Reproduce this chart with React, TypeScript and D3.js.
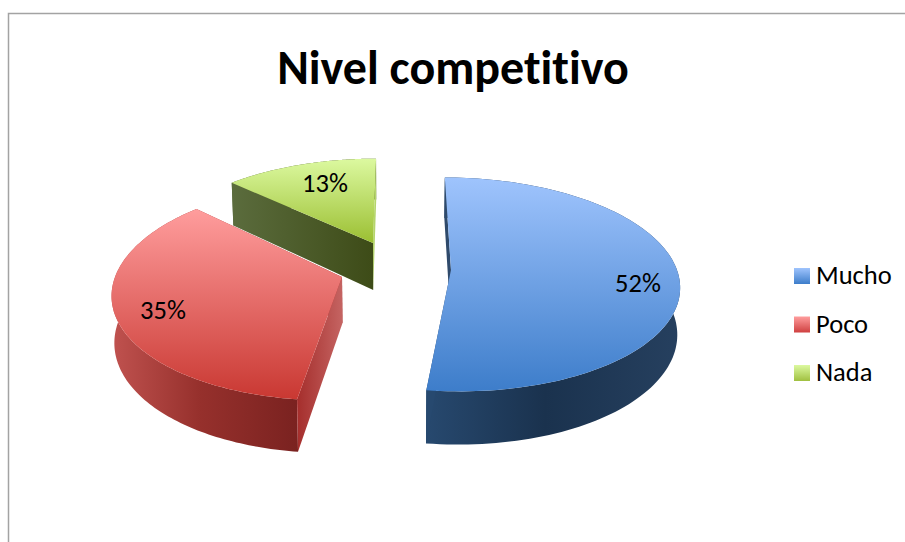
import React from "react";
import * as d3 from "d3";

const categories = ["Mucho", "Poco", "Nada"];
const shares = [52, 35, 13];
const chartTitle = "Nivel competitivo";

// Per-slice projection of the tilted, exploded pie.
const sliceViews = [
  { ax: 451, ay: 270, A: 226, B: 105, p: 0.135, s: -7, H: 46, lx: 638, ly: 292 },
  { ax: 342, ay: 277, A: 227, B: 108, p: 0.125, s: 11, H: 46, lx: 163, ly: 319 },
  { ax: 373, ay: 243, A: 217, B: 97, p: 0.15, s: 3.5, H: 47, lx: 325, ly: 192 },
];
const vanishX = 393;

const topStops = [
  ["#9fc4fd", "#3d7dca"],
  ["#ff9d9d", "#c93832"],
  ["#dcf9a0", "#9bbf32"],
];
const keyStops = [
  ["#9fc4fd", "#3d7dca"],
  ["#ff9d9d", "#cf4040"],
  ["#dcf9a0", "#a0c040"],
];
const wallStops = [
  ["#27496f", "#1a324e", "#26405f"],
  ["#c0524f", "#96302c", "#7a2220"],
  ["#5b6c3d", "#4a5a28", "#3d4b17"],
];

const pie = d3.pie<number>().sort(null).value((d) => d);
const arcs = pie(shares);

type P = [number, number];
type View = (typeof sliceViews)[number];

// Plane polar coordinates -> screen, with depth foreshortening.
function project(v: View, r: number, theta: number): P {
  const pu = r * Math.sin(theta);
  const pv = r * Math.cos(theta);
  const d = 1 + v.p * pv;
  return [v.ax + (v.A * pu + v.s * pv) / d, v.ay - (v.B * pv) / d];
}

// Same point on the underside of the slice.
function lower(v: View, q: P, pv: number): P {
  const h = v.H / (1 + v.p * pv);
  return [q[0] + (vanishX - q[0]) * 0.01, q[1] + h];
}

const path = d3.line<P>().curve(d3.curveLinear);

function arcAngles(a0: number, a1: number) {
  return d3.range(0, 121).map((i) => d3.interpolateNumber(a0, a1)(i / 120));
}

const startCutFill = ["#2f4a6b", "url(#cutRed)", "url(#cutGreen)"];
const endCutFill = ["#27496f", "#a83230", "#b5d56c"];

function Slice({ i }: { i: number }) {
  const v = sliceViews[i];
  const { startAngle: a0, endAngle: a1 } = arcs[i];
  const angles = arcAngles(a0, a1);
  const rim = angles.map((t) => project(v, 1, t));
  const rimLow = angles.map((t, k) => lower(v, rim[k], Math.cos(t)));
  const apex = project(v, 0, 0);
  const apexLow = lower(v, apex, 0);
  const top = path([apex, ...rim])! + "Z";
  const wall = path([...rim, ...rimLow.slice().reverse()])! + "Z";
  const cutStart = path([apex, rim[0], rimLow[0], apexLow])! + "Z";
  const cutEnd = path([apex, rim[120], rimLow[120], apexLow])! + "Z";
  return (
    <g>
      <path d={wall} fill={`url(#wall${i})`} />
      <path d={cutEnd} fill={endCutFill[i]} />
      <path d={cutStart} fill={startCutFill[i]} />
      <path d={top} fill={`url(#top${i})`} />
    </g>
  );
}

export default function App() {
  const fontFamily = "Carlito, Calibri, Lato, sans-serif";
  const noLigatures = { fontVariantLigatures: "none" as const };
  const topRange = sliceViews.map((v, i) => {
    const angles = arcAngles(arcs[i].startAngle, arcs[i].endAngle);
    const ys = [...angles.map((t) => project(v, 1, t)[1]), v.ay];
    return [d3.min(ys)!, d3.max(ys)!];
  });
  const wallRange = [
    [425, 545, 680],
    [112, 200, 298],
    [232, 300, 375],
  ];
  return (
    <svg
      width={905}
      height={542}
      viewBox="0 0 905 542"
      style={{ position: "fixed", left: 0, top: 0, display: "block", background: "#fff" }}
    >
      <defs>
        {topStops.map((c, i) => (
          <linearGradient key={i} id={`top${i}`} gradientUnits="userSpaceOnUse" x1={0} x2={0} y1={topRange[i][0]} y2={topRange[i][1]}>
            <stop offset="0" stopColor={c[0]} />
            <stop offset="1" stopColor={c[1]} />
          </linearGradient>
        ))}
        {wallStops.map((c, i) => (
          <linearGradient key={i} id={`wall${i}`} gradientUnits="userSpaceOnUse" x1={wallRange[i][0]} x2={wallRange[i][2]} y1={0} y2={0}>
            <stop offset="0" stopColor={c[0]} />
            <stop offset={(wallRange[i][1] - wallRange[i][0]) / (wallRange[i][2] - wallRange[i][0])} stopColor={c[1]} />
            <stop offset="1" stopColor={c[2]} />
          </linearGradient>
        ))}
        <linearGradient id="cutRed" gradientUnits="userSpaceOnUse" x1={297} x2={344} y1={0} y2={0}>
          <stop offset="0" stopColor="#a52e2c" />
          <stop offset="1" stopColor="#c66664" />
        </linearGradient>
        <linearGradient id="cutGreen" gradientUnits="userSpaceOnUse" x1={232} x2={375} y1={0} y2={0}>
          <stop offset="0" stopColor="#5b6c3d" />
          <stop offset="1" stopColor="#3d4b17" />
        </linearGradient>
        {keyStops.map((c, i) => (
          <linearGradient key={i} id={`key${i}`} x1={0} x2={0} y1={0} y2={1}>
            <stop offset="0" stopColor={c[0]} />
            <stop offset="1" stopColor={c[1]} />
          </linearGradient>
        ))}
      </defs>

      <path d="M8.5 542V13.5H905" fill="none" stroke="#a3a3a3" strokeWidth={1.5} />

      <text x={453} y={84} textAnchor="middle" fontFamily={fontFamily} fontWeight={700} fontSize={48} fill="#000" style={noLigatures}>
        {chartTitle}
      </text>

      {[2, 1, 0].map((i) => (
        <Slice key={i} i={i} />
      ))}

      {shares.map((s, i) => (
        <text key={i} x={sliceViews[i].lx} y={sliceViews[i].ly} textAnchor="middle" fontFamily={fontFamily} fontSize={26.5} fill="#000" style={noLigatures}>
          {`${s}%`}
        </text>
      ))}

      {categories.map((c, i) => (
        <g key={c} transform={`translate(794,${268 + i * 48.5})`}>
          <rect width={16} height={16} fill={`url(#key${i})`} />
          <text x={22} y={16} fontFamily={fontFamily} fontSize={26.5} fill="#000" style={noLigatures}>
            {c}
          </text>
        </g>
      ))}
    </svg>
  );
}
